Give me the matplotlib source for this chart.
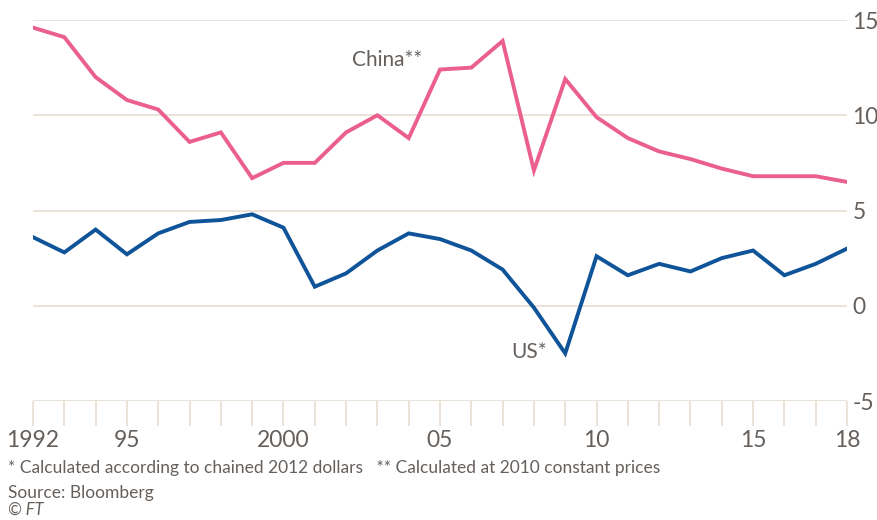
import matplotlib
matplotlib.use("Agg")
import matplotlib.pyplot as plt

plt.rcParams['font.family'] = ['Lato', 'DejaVu Sans']
plt.rcParams['axes.unicode_minus'] = False

# GDP growth, %
years = list(range(1992, 2019))
china = [14.6, 14.1, 12.0, 10.8, 10.3, 8.6, 9.1, 6.7, 7.5, 7.5, 9.1, 10.0, 8.8,
         12.4, 12.5, 13.9, 7.1, 11.9, 9.9, 8.8, 8.1, 7.7, 7.2, 6.8, 6.8, 6.8, 6.5]
us = [3.6, 2.8, 4.0, 2.7, 3.8, 4.4, 4.5, 4.8, 4.1, 1.0, 1.7, 2.9, 3.8,
      3.5, 2.9, 1.9, -0.1, -2.5, 2.6, 1.6, 2.2, 1.8, 2.5, 2.9, 1.6, 2.2, 3.0]
xtick_pos = [1992, 1995, 2000, 2005, 2010, 2015, 2018]
xtick_labels = ['1992', '95', '2000', '05', '10', '15', '18']
ytick_pos = [-5, 0, 5, 10, 15]

pink = '#eb5f8e'
blue = '#0f5499'
grid_c = '#e9e0d6'
text_c = '#66605c'

fig = plt.figure(figsize=(8.78, 5.2), dpi=100)
ax = fig.add_axes([33 / 878, 1 - 401 / 520, (847 - 33) / 878, (401 - 20) / 520])

for y in ytick_pos:
    ax.axhline(y, color=grid_c, lw=1.3, zorder=1)

ax.plot(years, china, color=pink, lw=2.8, zorder=3, solid_joinstyle='miter')
ax.plot(years, us, color=blue, lw=2.8, zorder=3, solid_joinstyle='miter')

ax.set_xlim(1992, 2018)
ax.set_ylim(-5, 15)
for s in ax.spines.values():
    s.set_visible(False)

ax.set_xticks(years, minor=True)
ax.set_xticks(xtick_pos)
ax.set_xticklabels(xtick_labels)
ax.tick_params(axis='x', which='both', length=18, width=1.3, color=grid_c,
               labelsize=16.5, labelcolor=text_c, pad=3)
ax.yaxis.tick_right()
ax.set_yticks(ytick_pos)
ax.set_yticklabels([str(v) for v in ytick_pos])
ax.tick_params(axis='y', length=0, labelsize=16.5, labelcolor=text_c, pad=4)

ax.text(2003.3, 12.9, 'China**', fontsize=15, color=text_c, ha='center', va='center')
ax.text(2007.85, -2.45, 'US*', fontsize=15, color=text_c, ha='center', va='center')

fig.text(8 / 878, 1 - 468 / 520,
         '* Calculated according to chained 2012 dollars   ** Calculated at 2010 constant prices',
         fontsize=12.5, color=text_c, va='center')
fig.text(8 / 878, 1 - 493 / 520, 'Source: Bloomberg', fontsize=12.5, color=text_c, va='center')
fig.text(8 / 878, 1 - 510 / 520, '© FT', fontsize=12, color=text_c, va='center', style='italic')

fig.savefig('out.png', dpi=100, facecolor='white')
